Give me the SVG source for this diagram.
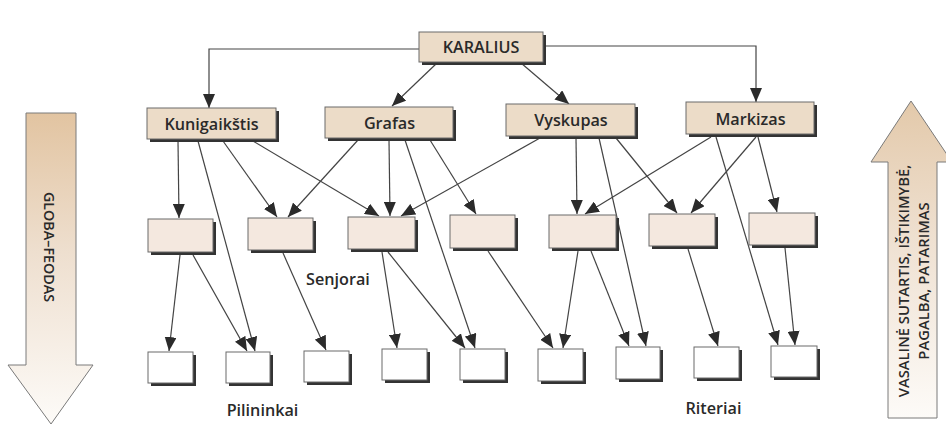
<svg xmlns="http://www.w3.org/2000/svg" width="946" height="425" viewBox="0 0 946 425">
  <defs>
    <style>
      .lbl { font-family: "Open Sans", "Liberation Sans", sans-serif; font-size: 16.2px; font-weight: 600; fill: #2a2a2a; text-anchor: middle; }
      .side { font-family: "Open Sans", "Liberation Sans", sans-serif; font-size: 14.3px; font-weight: 600; fill: #2a2a2a; text-anchor: middle; }
      .shadow { fill: #333333; }
      .top { fill: #ecdcc8; stroke: #6a6a6a; stroke-width: 1; }
      .mid { fill: #f4e8df; stroke: #6a6a6a; stroke-width: 1; }
      .bot { fill: #ffffff; stroke: #6a6a6a; stroke-width: 1; }
      .conn line, .conn polyline { stroke: #444444; stroke-width: 1.2; fill: none; marker-end: url(#ah); }
      .bigarrow { stroke: #7a7a7a; stroke-width: 1; }
    </style>
    <marker id="ah" markerUnits="userSpaceOnUse" markerWidth="14" markerHeight="12" refX="14" refY="6" orient="auto">
      <path d="M0,0 L14,6 L0,12 z" fill="#2b2b2b"/>
    </marker>
    <linearGradient id="gl" x1="0" y1="113" x2="0" y2="424" gradientUnits="userSpaceOnUse">
      <stop offset="0" stop-color="#e2c4a1"/>
      <stop offset="0.45" stop-color="#eedfcf"/>
      <stop offset="1" stop-color="#fdfbf8"/>
    </linearGradient>
    <linearGradient id="gr" x1="0" y1="101" x2="0" y2="418" gradientUnits="userSpaceOnUse">
      <stop offset="0" stop-color="#e3c9aa"/>
      <stop offset="0.45" stop-color="#efe1d2"/>
      <stop offset="1" stop-color="#fdfbf8"/>
    </linearGradient>
  </defs>

  <rect width="946" height="425" fill="#ffffff"/>

  <!-- side arrows -->
  <g id="globa-feodas">
    <polygon class="bigarrow" fill="url(#gl)" points="26,113 76,113 76,365 93,365 51,424 8,365 26,365"/>
    <text class="side" transform="translate(44,247) rotate(90)">GLOBA–FEODAS</text>
  </g>
  <g id="vasaline-sutartis">
    <polygon class="bigarrow" fill="url(#gr)" points="911,101 952,162 937,162 937,418 888,418 888,162 871,162"/>
    <text class="side" style="font-size:14.8px" transform="translate(909,281) rotate(-90)">VASALINĖ SUTARTIS, IŠTIKIMYBĖ,</text>
    <text class="side" style="font-size:14.8px" transform="translate(929,281) rotate(-90)">PAGALBA, PATARIMAS</text>
  </g>

  <!-- connectors -->
  <g id="connectors" class="conn">
    <polyline points="419,49 209,49 209,108"/>
    <line x1="437" y1="63" x2="392" y2="106"/>
    <line x1="521" y1="63" x2="569" y2="104"/>
    <polyline points="543,46 756,46 756,102"/>

    <line x1="178" y1="141" x2="179" y2="218"/>
    <line x1="198" y1="141" x2="255" y2="351"/>
    <line x1="223" y1="141" x2="277" y2="217"/>
    <line x1="253" y1="141" x2="379" y2="216"/>

    <line x1="358" y1="140" x2="288" y2="217"/>
    <line x1="389" y1="140" x2="390" y2="216"/>
    <line x1="405" y1="140" x2="475" y2="348"/>
    <line x1="430" y1="140" x2="476" y2="214"/>

    <line x1="540" y1="138" x2="401" y2="216"/>
    <line x1="576" y1="138" x2="577" y2="214"/>
    <line x1="599" y1="138" x2="646" y2="346"/>
    <line x1="616" y1="138" x2="677" y2="213"/>

    <line x1="711" y1="137" x2="585" y2="214"/>
    <line x1="716" y1="137" x2="778" y2="345"/>
    <line x1="756" y1="137" x2="691" y2="213"/>
    <line x1="758" y1="137" x2="777" y2="212"/>

    <line x1="180" y1="255" x2="169" y2="351"/>
    <line x1="193" y1="255" x2="247" y2="351"/>
    <line x1="283" y1="253" x2="326" y2="350"/>
    <line x1="382" y1="252" x2="397" y2="348"/>
    <line x1="388" y1="252" x2="465" y2="348"/>
    <line x1="488" y1="251" x2="553" y2="348"/>
    <line x1="578" y1="251" x2="563" y2="348"/>
    <line x1="591" y1="251" x2="629" y2="346"/>
    <line x1="688" y1="249" x2="718" y2="346"/>
    <line x1="785" y1="248" x2="795" y2="345"/>
  </g>

  <!-- top nodes -->
  <g id="karalius">
    <rect class="shadow" x="422" y="35" width="124" height="30"/>
    <rect class="top" x="419" y="32" width="124" height="30"/>
    <text class="lbl" x="481" y="53">KARALIUS</text>
  </g>
  <g id="kunigaikstis">
    <rect class="shadow" x="150" y="111" width="129" height="31"/>
    <rect class="top" x="147" y="108" width="129" height="31"/>
    <text class="lbl" x="211.5" y="130">Kunigaikštis</text>
  </g>
  <g id="grafas">
    <rect class="shadow" x="328" y="110" width="128" height="31"/>
    <rect class="top" x="325" y="107" width="128" height="31"/>
    <text class="lbl" x="389.5" y="129">Grafas</text>
  </g>
  <g id="vyskupas">
    <rect class="shadow" x="509" y="107" width="129" height="32"/>
    <rect class="top" x="506" y="104" width="129" height="32"/>
    <text class="lbl" x="571" y="126">Vyskupas</text>
  </g>
  <g id="markizas">
    <rect class="shadow" x="689" y="105" width="128" height="32"/>
    <rect class="top" x="686" y="102" width="128" height="32"/>
    <text class="lbl" x="750.5" y="125">Markizas</text>
  </g>

  <!-- middle nodes (Senjorai) -->
  <g id="senjoras-1"><rect class="shadow" x="151" y="222" width="65" height="33"/><rect class="mid" x="148" y="219" width="65" height="33"/></g>
  <g id="senjoras-2"><rect class="shadow" x="251" y="221" width="65" height="32"/><rect class="mid" x="248" y="218" width="65" height="32"/></g>
  <g id="senjoras-3"><rect class="shadow" x="351" y="220" width="67" height="32"/><rect class="mid" x="348" y="217" width="67" height="32"/></g>
  <g id="senjoras-4"><rect class="shadow" x="453" y="218" width="65" height="33"/><rect class="mid" x="450" y="215" width="65" height="33"/></g>
  <g id="senjoras-5"><rect class="shadow" x="552" y="218" width="67" height="33"/><rect class="mid" x="549" y="215" width="67" height="33"/></g>
  <g id="senjoras-6"><rect class="shadow" x="652" y="217" width="66" height="32"/><rect class="mid" x="649" y="214" width="66" height="32"/></g>
  <g id="senjoras-7"><rect class="shadow" x="752" y="216" width="66" height="32"/><rect class="mid" x="749" y="213" width="66" height="32"/></g>

  <!-- bottom nodes -->
  <g id="pilininkas-1"><rect class="shadow" x="151" y="355" width="45" height="31"/><rect class="bot" x="148" y="352" width="45" height="31"/></g>
  <g id="pilininkas-2"><rect class="shadow" x="229" y="355" width="44" height="31"/><rect class="bot" x="226" y="352" width="44" height="31"/></g>
  <g id="pilininkas-3"><rect class="shadow" x="307" y="354" width="45" height="31"/><rect class="bot" x="304" y="351" width="45" height="31"/></g>
  <g id="pilininkas-4"><rect class="shadow" x="385" y="352" width="45" height="31"/><rect class="bot" x="382" y="349" width="45" height="31"/></g>
  <g id="riteris-1"><rect class="shadow" x="463" y="352" width="45" height="31"/><rect class="bot" x="460" y="349" width="45" height="31"/></g>
  <g id="riteris-2"><rect class="shadow" x="541" y="352" width="45" height="32"/><rect class="bot" x="538" y="349" width="45" height="32"/></g>
  <g id="riteris-3"><rect class="shadow" x="619" y="350" width="44" height="32"/><rect class="bot" x="616" y="347" width="44" height="32"/></g>
  <g id="riteris-4"><rect class="shadow" x="697" y="350" width="45" height="31"/><rect class="bot" x="694" y="347" width="45" height="31"/></g>
  <g id="riteris-5"><rect class="shadow" x="774" y="349" width="46" height="31"/><rect class="bot" x="771" y="346" width="46" height="31"/></g>

  <!-- group labels -->
  <g id="labels">
    <text class="lbl" x="338" y="285">Senjorai</text>
    <text class="lbl" x="262.5" y="416">Pilininkai</text>
    <text class="lbl" x="713.5" y="414">Riteriai</text>
  </g>
</svg>
